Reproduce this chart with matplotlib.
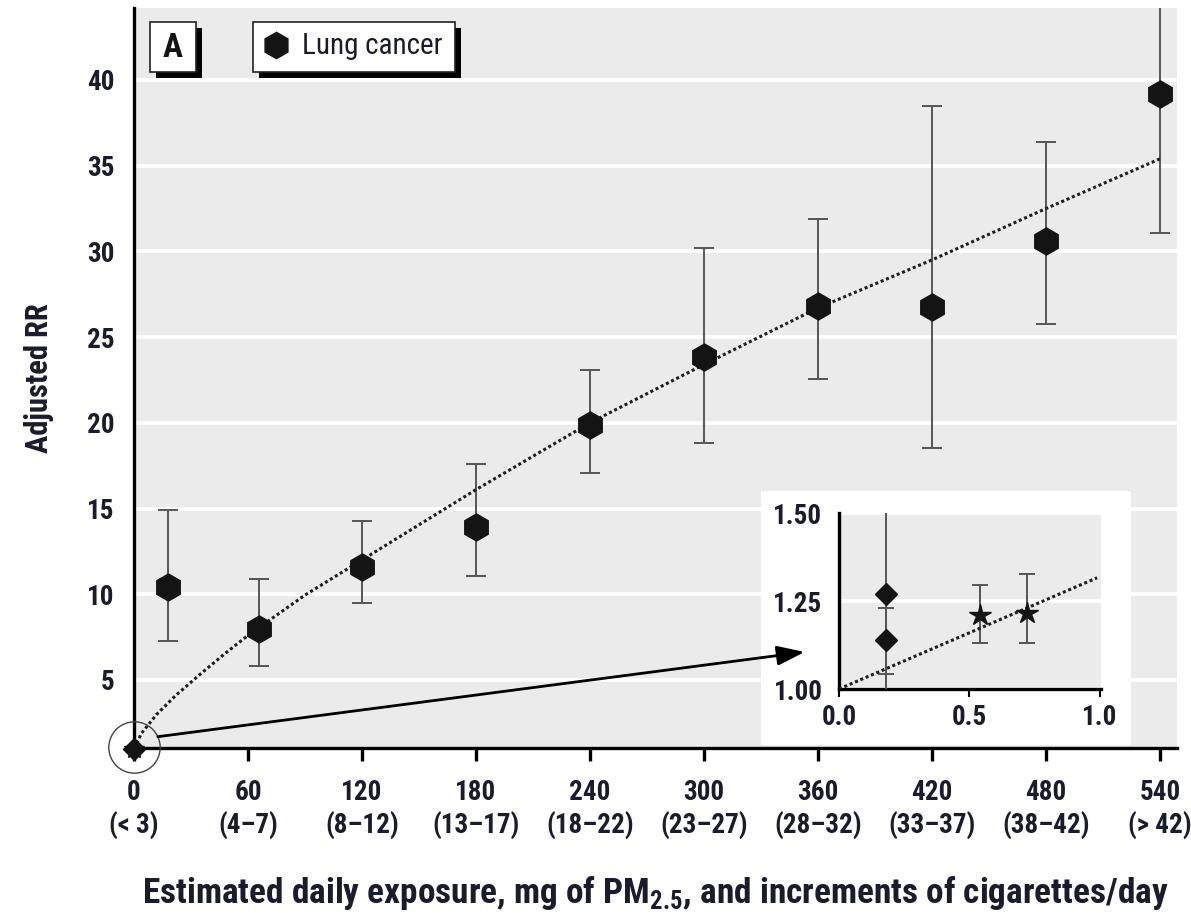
import matplotlib
matplotlib.use('Agg')
import matplotlib.pyplot as plt
import matplotlib.transforms as mtransforms
from matplotlib.patches import Rectangle
from matplotlib.lines import Line2D
import numpy as np

plt.rcParams['font.family'] = ['Roboto Condensed', 'Archivo Narrow', 'DejaVu Sans']
plt.rcParams['mathtext.fontset'] = 'custom'
plt.rcParams['mathtext.rm'] = 'Roboto Condensed'
plt.rcParams['mathtext.bf'] = 'Roboto Condensed:bold'

# ---------------- data ----------------
exposure = [18, 66, 120, 180, 240, 300, 360, 420, 480, 540]
rr = [10.43, 7.98, 11.57, 13.9, 19.88, 23.83, 26.84, 26.74, 30.63, 39.19]
rr_low = [7.27, 5.83, 9.47, 11.07, 17.1, 18.8, 22.56, 18.52, 25.75, 31.1]
rr_high = [14.9, 10.9, 14.26, 17.6, 23.1, 30.2, 31.9, 38.5, 36.37, 47.0]

fit_x = [0, 4, 12, 22, 35, 48, 60, 90, 120, 180, 240, 300, 360, 420, 480, 540]
fit_rr = [1.0, 1.9, 3.0, 4.1, 5.35, 6.55, 7.6, 9.95, 12.0, 16.1, 20.0, 23.4, 26.7, 29.5, 32.5, 35.4]

ref_x = [0]
ref_rr = [1.0]

xtick_vals = [0, 60, 120, 180, 240, 300, 360, 420, 480, 540]
xtick_labels = ['0\n(< 3)', '60\n(4–7)', '120\n(8–12)', '180\n(13–17)', '240\n(18–22)',
                '300\n(23–27)', '360\n(28–32)', '420\n(33–37)', '480\n(38–42)', '540\n(> 42)']
ytick_vals = [5, 10, 15, 20, 25, 30, 35, 40]

inset_diamond_x = [0.18, 0.18]
inset_diamond_rr = [1.27, 1.14]
inset_diamond_low = [0.97, 1.042]
inset_diamond_high = [1.60, 1.231]
inset_star_x = [0.54, 0.72]
inset_star_rr = [1.21, 1.217]
inset_star_low = [1.13, 1.13]
inset_star_high = [1.295, 1.327]
inset_fit_x = [0.0, 0.99]
inset_fit_rr = [1.0, 1.316]
inset_xticks = [0.0, 0.5, 1.0]
inset_xlabels = ['0.0', '0.5', '1.0']
inset_yticks = [1.0, 1.25, 1.5]
inset_ylabels = ['1.00', '1.25', '1.50']

# ---------------- figure ----------------
W, H = 1191, 915
fig = plt.figure(figsize=(W / 100, H / 100), dpi=100)
fig.patch.set_facecolor('white')
pix = mtransforms.Affine2D().scale(1 / W, -1 / H).translate(0, 1) + fig.transFigure

TXT = '#1b1b2e'
BG = '#ebebeb'
TICKFS = 19.5

ax = fig.add_axes([134 / W, 1 - 748 / H, 1043 / W, 740 / H])
ax.set_facecolor(BG)
ax.set_xlim(0, 549)
ax.set_ylim(1.03, 44.2)
for s in ['top', 'right']:
    ax.spines[s].set_visible(False)
for s in ['left', 'bottom']:
    ax.spines[s].set_linewidth(2.4)
    ax.spines[s].set_color('black')
ax.set_axisbelow(True)
ax.yaxis.grid(True, color='white', lw=2.6)
ax.set_yticks(ytick_vals)
ax.set_yticklabels([str(v) for v in ytick_vals])
ax.set_xticks(xtick_vals)
ax.set_xticklabels(xtick_labels, linespacing=1.3)
ax.tick_params(axis='y', length=0, pad=14, labelsize=TICKFS, labelcolor=TXT)
ax.tick_params(axis='x', length=9, width=2.4, direction='out', pad=13, labelsize=TICKFS, labelcolor=TXT)
for lab in ax.get_yticklabels() + ax.get_xticklabels():
    lab.set_fontweight('bold')

# white backing box for inset
ax.add_patch(Rectangle((761, 491), 370, 254, transform=pix, facecolor='white',
                       edgecolor='none', zorder=2))

rr_a = np.array(rr)
yerr = [rr_a - np.array(rr_low), np.array(rr_high) - rr_a]
ax.errorbar(exposure, rr, yerr=yerr, fmt='none', ecolor='#555555', elinewidth=1.4,
            capsize=7, capthick=1.4, zorder=3)
ax.plot(fit_x, fit_rr, color='#1e1e1e', lw=2.2, ls=(0, (1, 0.9)), zorder=4)
ax.plot(exposure, rr, 'h', ms=19.5, color='#141414', zorder=5)

# reference point and circle
ax.plot(ref_x, [1.1], 'o', ms=37, mfc='none', mec='#444444', mew=1.0, clip_on=False, zorder=6)
ax.plot(ref_x, ref_rr, 'D', ms=11, color='#141414', clip_on=False, zorder=7)
ax.plot(ref_x, ref_rr, '*', ms=15, color='#141414', clip_on=False, zorder=7)

# arrow
ax.annotate('', xy=(353, 6.63), xytext=(12.6, 1.69),
            arrowprops=dict(arrowstyle='-|>,head_length=1.4,head_width=0.5', lw=2.0,
                            color='black', mutation_scale=12, shrinkA=0, shrinkB=0),
            zorder=8)

ylab = ax.set_ylabel('Adjusted RR', fontsize=21, fontweight='bold', color=TXT, labelpad=24)
xlab = ax.set_xlabel('Estimated daily exposure, mg of PM$_{\\mathbf{2.5}}$, and increments of cigarettes/day',
                     fontsize=22, fontweight='bold', color=TXT, labelpad=24)

# ---------------- inset ----------------
ia = fig.add_axes([839 / W, 1 - 689 / H, 262 / W, 176 / H])
ia.set_facecolor(BG)
ia.set_xlim(0, 1.005)
ia.set_ylim(1.0, 1.5)
for s in ['top', 'right']:
    ia.spines[s].set_visible(False)
for s in ['left', 'bottom']:
    ia.spines[s].set_linewidth(2.4)
    ia.spines[s].set_color('black')
ia.set_axisbelow(True)
ia.set_yticks(inset_yticks)
ia.set_yticklabels(inset_ylabels)
ia.set_xticks(inset_xticks)
ia.set_xticklabels(inset_xlabels)
ia.yaxis.grid(True, color='white', lw=2.6)
ia.tick_params(axis='y', length=0, pad=12, labelsize=TICKFS, labelcolor=TXT)
ia.tick_params(axis='x', length=6, width=1.5, pad=5, labelsize=TICKFS, labelcolor=TXT)
for lab in ia.get_yticklabels() + ia.get_xticklabels():
    lab.set_fontweight('bold')

d_rr = np.array(inset_diamond_rr)
ia.errorbar(inset_diamond_x, inset_diamond_rr,
            yerr=[d_rr - np.array(inset_diamond_low), np.array(inset_diamond_high) - d_rr],
            fmt='none', ecolor='#555555', elinewidth=1.4, capsize=6, capthick=1.4, zorder=3)
s_rr = np.array(inset_star_rr)
ia.errorbar(inset_star_x, inset_star_rr,
            yerr=[s_rr - np.array(inset_star_low), np.array(inset_star_high) - s_rr],
            fmt='none', ecolor='#555555', elinewidth=1.4, capsize=6, capthick=1.4, zorder=3)
ia.plot(inset_fit_x, inset_fit_rr, color='#1e1e1e', lw=2.2, ls=(0, (1, 0.9)), zorder=4)
ia.plot(inset_diamond_x, inset_diamond_rr, 'D', ms=11, color='#141414', zorder=5)
ia.plot(inset_star_x, inset_star_rr, '*', ms=16, color='#141414', zorder=5)

# ---------------- panel label and legend boxes ----------------
for (x0, y0, w, h) in [(150, 22, 46, 50), (253, 22, 202, 50)]:
    fig.add_artist(Rectangle((x0 + 6, y0 + 6), w, h, transform=pix, facecolor='black',
                             edgecolor='none', zorder=10))
    fig.add_artist(Rectangle((x0, y0), w, h, transform=pix, facecolor='white',
                             edgecolor='#222222', lw=1.2, zorder=11))
fig.text(173, 48, 'A', transform=pix, ha='center', va='center', fontsize=24,
         fontweight='bold', color='#141414', zorder=12)
fig.add_artist(Line2D([276], [45], marker='h', ms=19, color='#141414', transform=pix, zorder=12))
legtxt = fig.text(302, 46, 'Lung cancer', transform=pix, ha='left', va='center', fontsize=19,
                  color=TXT, zorder=12)

# scale a few texts to the widths they take in the reference
fig.canvas.draw()
rend = fig.canvas.get_renderer()
for t, target, use_h in [(xlab, 1025, False), (ylab, 150, True), (legtxt, 141, False)]:
    ext = t.get_window_extent(rend)
    size = ext.height if use_h else ext.width
    t.set_fontsize(t.get_fontsize() * target / size)

fig.savefig('out.png', dpi=100, facecolor='white')
